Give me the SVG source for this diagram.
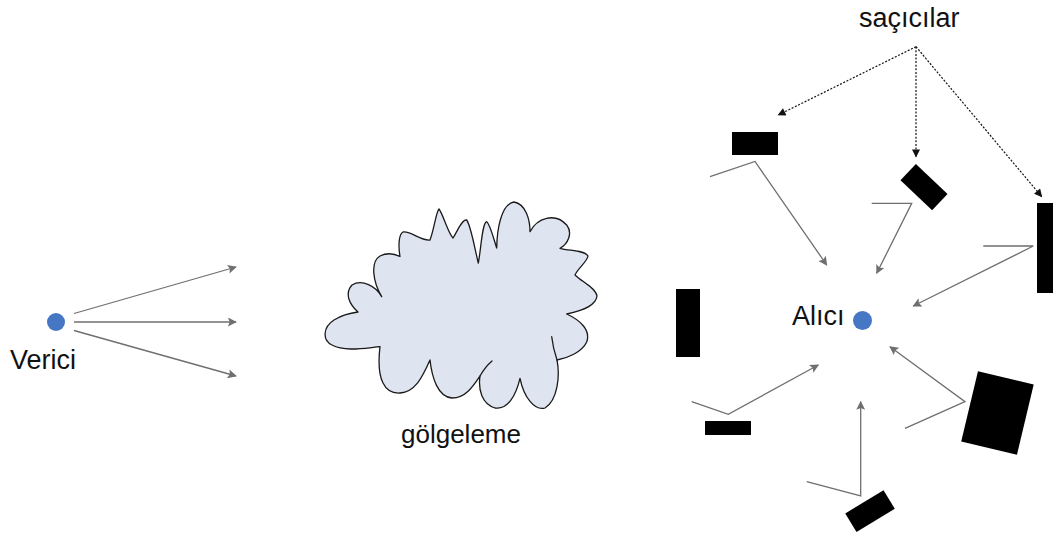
<svg xmlns="http://www.w3.org/2000/svg" width="1053" height="533" viewBox="0 0 1053 533">
  <style>
    .label { font-family: "Liberation Sans", Arial, sans-serif; font-size: 27px; fill: #111; }
    .dot { fill: #4677c4; }
    .ray { fill: none; stroke: #6f6f6f; stroke-width: 1.3; marker-end: url(#grayHead); }
    .pointer { fill: none; stroke: #111; stroke-width: 1.2; stroke-dasharray: 2 1.6; marker-end: url(#blackHead); }
    .scatter { fill: #000; }
    .cloud { fill: #dee5f1; stroke: #1a1a1a; stroke-width: 1.3; stroke-linejoin: round; }
    .cloud-seam { fill: none; stroke: #1a1a1a; stroke-width: 1.3; stroke-linecap: round; }
  </style>
  <defs>
    <marker id="grayHead" viewBox="0 0 10 10" refX="9" refY="5" markerWidth="10" markerHeight="9" markerUnits="userSpaceOnUse" orient="auto">
      <path d="M0,0 L10,5 L0,10 L2,5 Z" fill="#6f6f6f"/>
    </marker>
    <marker id="blackHead" viewBox="0 0 10 10" refX="9" refY="5" markerWidth="9" markerHeight="8" markerUnits="userSpaceOnUse" orient="auto">
      <path d="M0,0 L10,5 L0,10 Z" fill="#111"/>
    </marker>
  </defs>

  <rect width="1053" height="533" fill="#fff"/>

  <!-- transmitter -->
  <g id="transmitter">
    <circle class="dot" cx="56" cy="322" r="9"/>
    <text class="label" x="10" y="369">Verici</text>
  </g>

  <!-- shadowing obstacle -->
  <g id="shadowing">
    <path class="cloud" d="M358,312
      C350,305 344,294 352,285
      C362,279 376,286 381.7,296.7
      C373,282 370,262 380,256
      C388,252 395,254 400,256.5
      C398,245 399,234 403,232
      C412,231 420,241 430,240
      C434,230 436,212 439,209
      C443,214 448,233 453,238
      C457,232 462,219 466.7,220
      C471,226 475,250 478.3,263
      C481,250 482,223 486.7,221.7
      C490,224 494,240 496.7,248
      C497,230 501,204 514,202
      C526,204 530,220 530,231.7
      C537,218 555,212 566.7,225
      C573,233 568,244 560,248.3
      C570,251 584,250 588,256
      C587,262 578,268 575,275
      C582,282 596,288 597,296
      C596,305 585,310 566.7,314
      C580,320 591,330 586.7,342
      C582,352 568,358 557,360
      C560,375 558,400 545,408
      C535,411 524,398 520,378.3
      C516,395 508,410 495,408
      C482,404 478,390 480,376
      C474,385 466,398 452,398
      C438,397 432,378 430,360
      C422,378 415,392 400,393
      C385,394 376,380 380,346.7
      C365,348 345,352 332,345
      C322,340 323,327 334,320
      C342,315 350,313 358,312 Z"/>
    <path class="cloud-seam" d="M557,360 Q553,348 551.7,336.7"/>
    <path class="cloud-seam" d="M480,376 Q485,367 492,361"/>
    <text class="label" x="401" y="443" style="font-size:26px">gölgeleme</text>
  </g>

  <!-- receiver -->
  <g id="receiver">
    <circle class="dot" cx="862.5" cy="320.5" r="9.5"/>
    <text class="label" x="792" y="325">Alıcı</text>
  </g>

  <!-- scatterers -->
  <g id="scatterer-1"><rect class="scatter" x="732" y="132" width="46" height="23"/></g>
  <g id="scatterer-2"><rect class="scatter" x="902.2" y="176" width="43.6" height="22.4" transform="rotate(43.5 924 187.2)"/></g>
  <g id="scatterer-3"><rect class="scatter" x="1037" y="203" width="20" height="90"/></g>
  <g id="scatterer-4"><rect class="scatter" x="676" y="289" width="24" height="68"/></g>
  <g id="scatterer-5"><rect class="scatter" x="705" y="421" width="46" height="14"/></g>
  <g id="scatterer-6"><rect class="scatter" x="968.8" y="376.8" width="57.3" height="72.3" transform="rotate(13.4 997.5 413)"/></g>
  <g id="scatterer-7"><rect class="scatter" x="847.6" y="500.2" width="44.8" height="21.7" transform="rotate(-31.3 870 511)"/></g>

  <!-- label for scatterers -->
  <g id="scatterers-label">
    <text class="label" x="859" y="27">saçıcılar</text>
  </g>

  <!-- connectors -->
  <g id="connectors">
    <!-- direct rays from transmitter -->
    <line class="ray" x1="74" y1="313.5" x2="236" y2="267"/>
    <line class="ray" x1="74" y1="322" x2="236" y2="322"/>
    <line class="ray" x1="74" y1="330.5" x2="236" y2="376"/>

    <!-- scattered rays toward receiver -->
    <polyline class="ray" points="710,176.7 755,161.5 826.7,265"/>
    <polyline class="ray" points="871.7,203.3 911.7,203.3 876.7,273.3"/>
    <polyline class="ray" points="983.3,246 1033.3,246 913.3,306"/>
    <polyline class="ray" points="691.7,401.7 728.3,414.3 818.3,365"/>
    <polyline class="ray" points="806.7,481.7 860.7,496 860.7,401.7"/>
    <polyline class="ray" points="905,428.3 965,401.7 890,346.7"/>

    <!-- pointers from label to scatterers -->
    <line class="pointer" x1="916" y1="46.7" x2="778.3" y2="115"/>
    <line class="pointer" x1="916" y1="46.7" x2="916" y2="156.7"/>
    <line class="pointer" x1="916" y1="46.7" x2="1041.7" y2="196.7"/>
  </g>
</svg>
